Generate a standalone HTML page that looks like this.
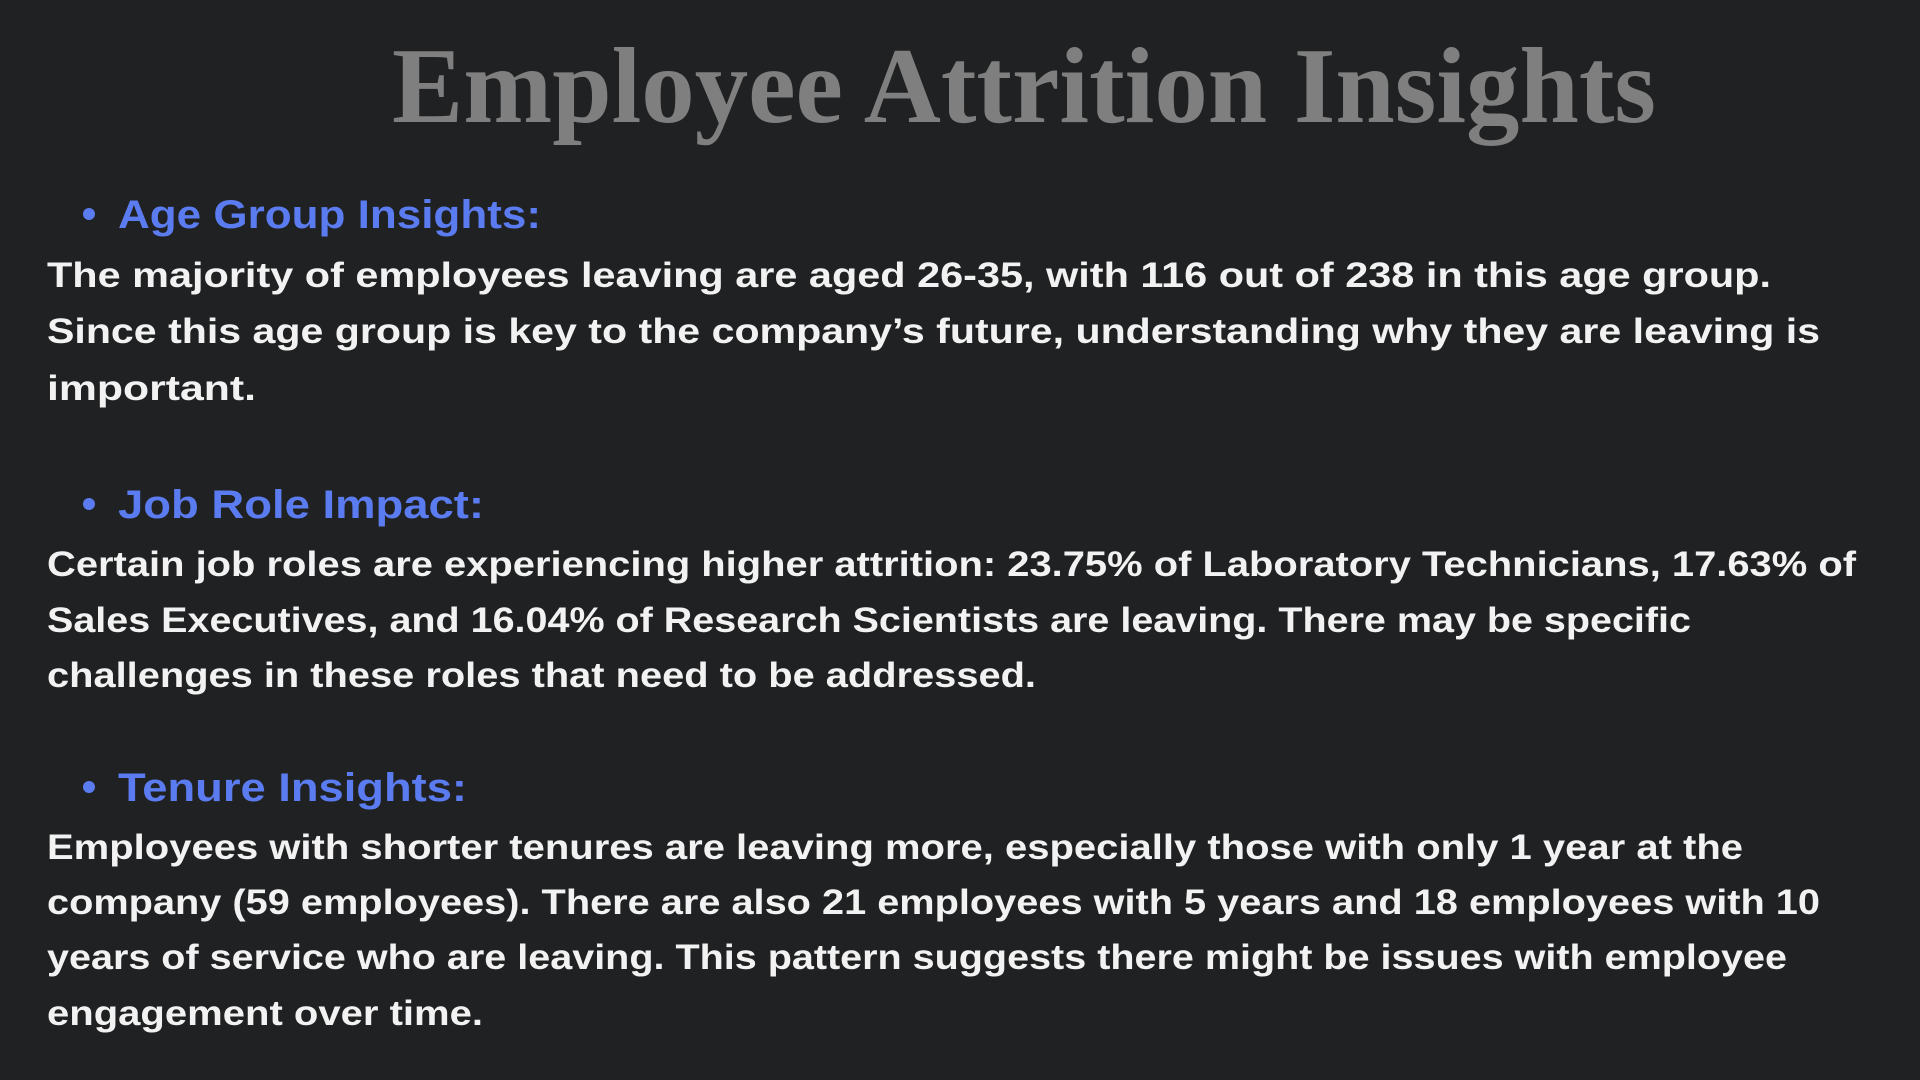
<!DOCTYPE html>
<html><head><meta charset="utf-8"><style>
html,body{margin:0;padding:0;background:#202122;width:1920px;height:1080px;overflow:hidden}
svg{display:block}
.t{font-family:"Liberation Serif",serif;font-weight:bold;fill:#7f7f7f}
.h{font-family:"Liberation Sans",sans-serif;font-weight:bold;fill:#5b7cf0;font-size:40px}
.b{font-family:"Liberation Sans",sans-serif;font-weight:bold;fill:#f2f2f2;font-size:35px}
</style></head><body>
<svg width="1920" height="1080">
<rect width="1920" height="1080" fill="#202122"/>
<text class="t" x="392" y="122" font-size="108" textLength="1264" lengthAdjust="spacingAndGlyphs">Employee Attrition Insights</text>

<circle cx="89" cy="214" r="6" fill="#5b7cf0"/>
<text class="h" x="118" y="228" textLength="423" lengthAdjust="spacingAndGlyphs">Age Group Insights:</text>
<text class="b" x="47" y="287" textLength="1724" lengthAdjust="spacingAndGlyphs">The majority of employees leaving are aged 26-35, with 116 out of 238 in this age group.</text>
<text class="b" x="47" y="343" textLength="1773" lengthAdjust="spacingAndGlyphs">Since this age group is key to the company’s future, understanding why they are leaving is</text>
<text class="b" x="47" y="400" textLength="209" lengthAdjust="spacingAndGlyphs">important.</text>

<circle cx="89" cy="504" r="6" fill="#5b7cf0"/>
<text class="h" x="118" y="518" textLength="366" lengthAdjust="spacingAndGlyphs">Job Role Impact:</text>
<text class="b" x="47" y="576" textLength="1809" lengthAdjust="spacingAndGlyphs">Certain job roles are experiencing higher attrition: 23.75% of Laboratory Technicians, 17.63% of</text>
<text class="b" x="47" y="632" textLength="1644" lengthAdjust="spacingAndGlyphs">Sales Executives, and 16.04% of Research Scientists are leaving. There may be specific</text>
<text class="b" x="47" y="687" textLength="989" lengthAdjust="spacingAndGlyphs">challenges in these roles that need to be addressed.</text>

<circle cx="89" cy="787" r="6" fill="#5b7cf0"/>
<text class="h" x="118" y="801" textLength="349" lengthAdjust="spacingAndGlyphs">Tenure Insights:</text>
<text class="b" x="47" y="859" textLength="1696" lengthAdjust="spacingAndGlyphs">Employees with shorter tenures are leaving more, especially those with only 1 year at the</text>
<text class="b" x="47" y="914" textLength="1773" lengthAdjust="spacingAndGlyphs">company (59 employees). There are also 21 employees with 5 years and 18 employees with 10</text>
<text class="b" x="47" y="969" textLength="1740" lengthAdjust="spacingAndGlyphs">years of service who are leaving. This pattern suggests there might be issues with employee</text>
<text class="b" x="47" y="1025" textLength="436" lengthAdjust="spacingAndGlyphs">engagement over time.</text>
</svg>
</body></html>
